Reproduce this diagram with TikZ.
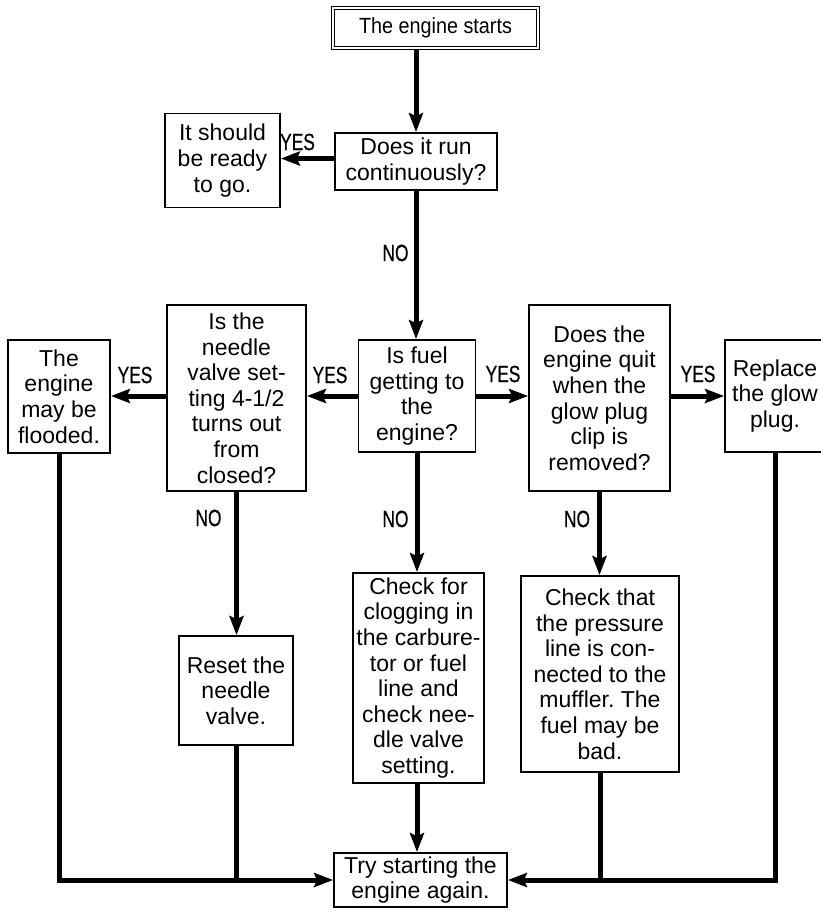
\documentclass[tikz,border=0pt]{standalone}
\usepackage{fontspec}
\setmainfont{Liberation Sans}
\newfontfamily\condfont[FakeStretch=0.74,FakeBold=0.6]{Liberation Sans}
\newfontfamily\narrowfont[FakeStretch=0.9]{Liberation Sans}
\usetikzlibrary{arrows.meta,calc}
\frenchspacing
\begin{document}
\begin{tikzpicture}[x=1pt,y=-1pt,
  box/.style={draw, line width=1.8pt, inner sep=0pt, align=center, font=\fontsize{23}{25.6}\selectfont},
  conn/.style={line width=5pt, line join=miter},
  arr/.style={conn, -{Stealth[length=19pt,width=14pt,inset=3pt]}},
  lab/.style={font=\condfont\fontsize{23.5}{25}\selectfont, inner sep=0pt},
]
\fill[white] (0,0) rectangle (820,911);
\useasboundingbox (0,0) rectangle (820,911);

% boxes
\node[box, double, double distance=2pt, line width=1.2pt, minimum width=205pt, minimum height=40pt,
      font=\narrowfont\fontsize{22}{24}\selectfont] (start) at (435.5,28) {The engine starts};
\node[box, minimum width=162pt, minimum height=57pt] (does) at (416,161.5) {Does it run\\continuously?};
\node[box, minimum width=115pt, minimum height=94pt] (ready) at (222.5,160.5) {It should\\be ready\\to go.};
\node[box, minimum width=117pt, minimum height=112pt] (fuel) at (417,396) {Is fuel\\getting to\\the\\engine?};
\node[box, minimum width=139pt, minimum height=186pt] (needle) at (236.5,398) {Is the\\needle\\valve set-\\ting 4-1/2\\turns out\\from\\closed?};
\node[box, minimum width=102pt, minimum height=113pt] (flood) at (59,396.5) {The\\engine\\may be\\flooded.};
\node[box, minimum width=141pt, minimum height=186pt] (quit) at (599.5,398) {Does the\\engine quit\\when the\\glow plug\\clip is\\removed?};
\node[box, minimum width=100pt, minimum height=112pt] (glow) at (775,396) {Replace\\the glow\\plug.};
\node[box, minimum width=114pt, minimum height=109pt] (reset) at (236,690.5) {Reset the\\needle\\valve.};
\node[box, minimum width=131pt, minimum height=210pt] (clog) at (418.5,678) {Check for\\clogging in\\the carbure-\\tor or fuel\\line and\\check nee-\\dle valve\\setting.};
\node[box, minimum width=158pt, minimum height=196pt] (press) at (600,674) {Check that\\the pressure\\line is con-\\nected to the\\muffler. The\\fuel may be\\bad.};
\node[box, minimum width=173pt, minimum height=54pt] (try) at (420.5,880) {Try starting the\\engine again.};

% connectors
\draw[arr] (start.south -| does.north) -- (does.north);
\draw[arr] ($(does.west)+(0,-3)$) -- ($(does.west -| ready.east)+(0,-3)$);
\draw[arr] (does.south) -- (does.south |- fuel.north);
\draw[arr] (fuel.west) -- (fuel.west -| needle.east);
\draw[arr] (needle.west |- fuel.west) -- (flood.east |- fuel.west);
\draw[arr] (fuel.east) -- (fuel.east -| quit.west);
\draw[arr] (quit.east |- fuel.east) -- (glow.west |- fuel.east);
\draw[arr] (needle.south) -- (needle.south |- reset.north);
\draw[arr] (fuel.south) -- (fuel.south |- clog.north);
\draw[arr] (quit.south) -- (quit.south |- press.north);
\draw[arr] (clog.south -| fuel.south) -- (try.north -| fuel.south);
\draw[arr] (flood.south) -- (flood.south |- try.west) -- (try.west);
\draw[conn] (reset.south) -- (reset.south |- try.west);
\draw[arr] (glow.south) -- (glow.south |- try.east) -- (try.east);
\draw[conn] (press.south) -- (press.south |- try.east);

% labels
\node[lab] (y1) at (297.5,142) {YES};
\node[lab] (y2) at (135,375) {YES};
\node[lab] (y3) at (330,375) {YES};
\node[lab] (y4) at (503,374) {YES};
\node[lab] (y5) at (698,374) {YES};
\node[lab] (n1) at (395.5,253) {NO};
\node[lab] (n2) at (208.5,518) {NO};
\node[lab] (n3) at (395.5,519) {NO};
\node[lab] (n4) at (577,519) {NO};
\end{tikzpicture}
\end{document}
